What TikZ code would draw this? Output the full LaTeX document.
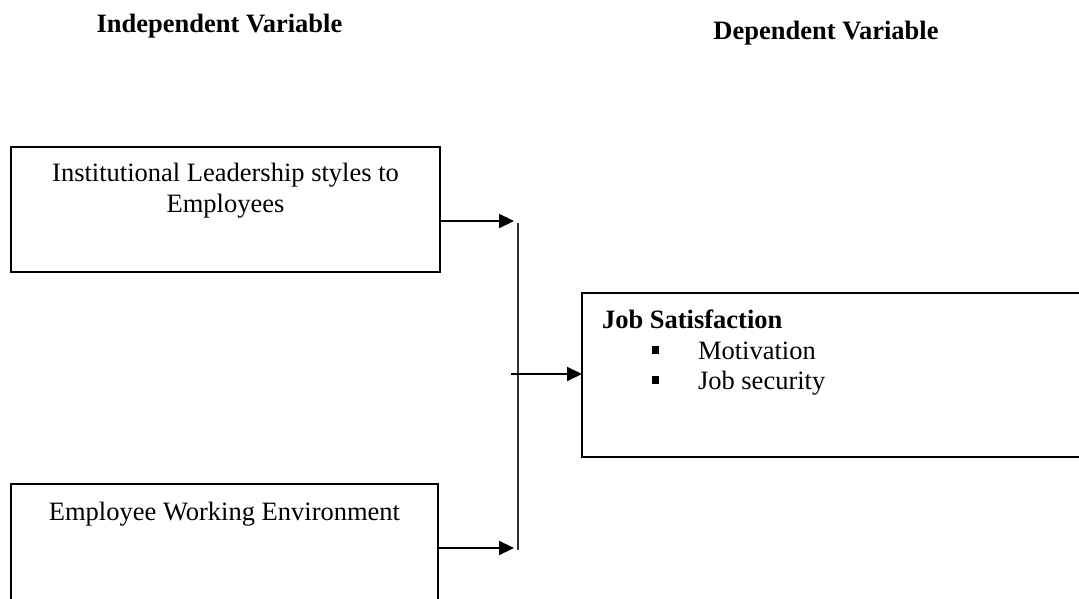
\documentclass[tikz,border=0pt]{standalone}
\usepackage{fontspec}
\setmainfont{Liberation Serif}
\usetikzlibrary{arrows.meta}
\begin{document}
\begin{tikzpicture}[x=1pt,y=-1pt,
  box/.style={draw=black,line width=2pt,inner sep=0pt,outer sep=0pt,rectangle},
  txt/.style={inner sep=0pt,outer sep=0pt,font=\fontsize{26.5}{31}\selectfont},
  hdr/.style={txt,font=\fontsize{26.5}{31}\selectfont\bfseries},
  arr/.style={line width=2.2pt,-{Triangle[length=15pt,width=14pt]}},
  bul/.style={fill=black,inner sep=0pt,minimum size=7.5pt,rectangle},
  vline/.style={line width=1.6pt,draw=black!80}]
\useasboundingbox (0,0) rectangle (1079,599);
\begin{scope}
\clip (0,0) rectangle (1079,599);
% headers
\node[hdr,anchor=base] (hind) at (219.5,33) {Independent Variable};
\node[hdr,anchor=base] (hdep) at (826,40) {Dependent Variable};
% boxes
\node[box,minimum width=429pt,minimum height=125pt] (b1) at (225.5,209.5) {};
\node[box,minimum width=427pt,minimum height=156pt] (b2) at (224.5,562) {};
\node[box,minimum width=538pt,minimum height=164pt] (js) at (851,375) {};
% box texts
\node[txt,anchor=base] (t1a) at (225.5,181) {Institutional Leadership styles to};
\node[txt,anchor=base] (t1b) at (225.5,212) {Employees};
\node[txt,anchor=base] (t2) at (224.5,520) {Employee Working Environment};
\node[hdr,anchor=base west] (jst) at (602,328) {Job Satisfaction};
\node[bul] (bu1) at (655.5,350) {};
\node[bul] (bu2) at (655.5,380) {};
\node[txt,anchor=base west] (mot) at (698,359) {Motivation};
\node[txt,anchor=base west] (sec) at (698,389) {Job security};
% connectors
\coordinate (a1) at (514,221);
\coordinate (a2) at (514,548);
\coordinate (vt) at (518,223);
\coordinate (vb) at (518,550);
\coordinate (m0) at (511,374);
\draw[vline] (vt) -- (vb);
\draw[arr] (b1.east |- a1) -- (a1);
\draw[arr] (b2.east |- a2) -- (a2);
\draw[arr] (m0) -- (js.west |- m0);
\end{scope}
\end{tikzpicture}
\end{document}
